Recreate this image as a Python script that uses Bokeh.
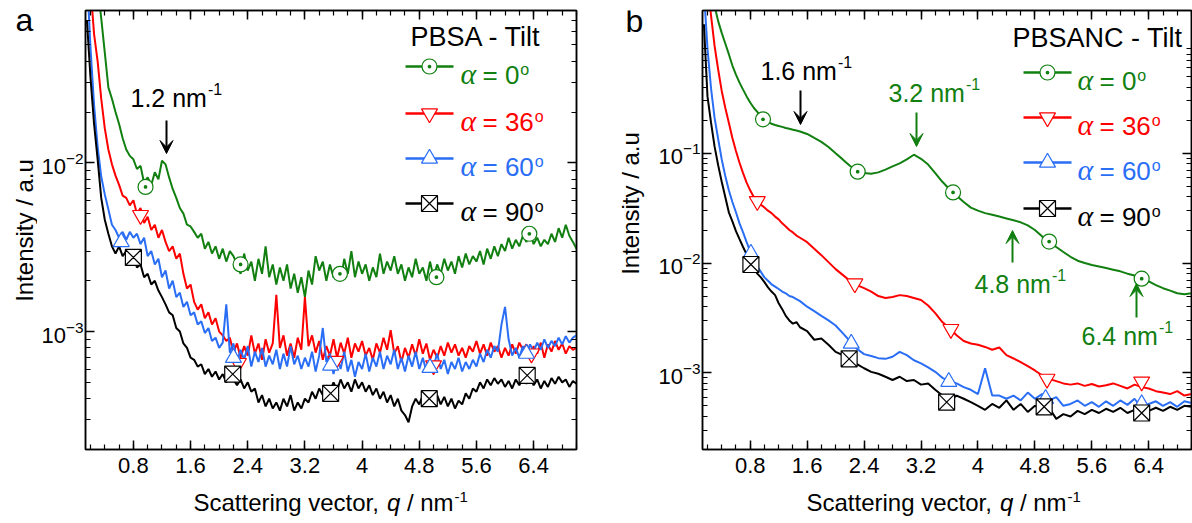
import math
import numpy as np
from bokeh.plotting import figure
from bokeh.models import (Range1d, FixedTicker, LinearAxis, LogAxis, LogTickFormatter,
                          Label, Arrow, VeeHead)
from bokeh.layouts import row, column
from bokeh.embed import file_html
from bokeh.resources import INLINE

SANS = "Liberation Sans"
SERIF = "Liberation Serif"
GREEN = "#118011"
RED = "#ff0000"
BLUE = "#2a6ef5"
BLACK = "#000000"

# ---------------- data (intensities in units of 1e-3 a.u.) ----------------
q_a = [0.15, 0.20, 0.25, 0.30, 0.35, 0.40, 0.45, 0.50, 0.55, 0.60,
       0.65, 0.70, 0.75, 0.80, 0.85, 0.90, 0.95, 1.00, 1.05, 1.10,
       1.15, 1.20, 1.25, 1.30, 1.35, 1.40, 1.45, 1.50, 1.55, 1.60,
       1.65, 1.70, 1.75, 1.80, 1.85, 1.90, 1.95, 2.00, 2.05, 2.10,
       2.15, 2.20, 2.25, 2.30, 2.35, 2.40, 2.45, 2.50, 2.55, 2.60,
       2.65, 2.70, 2.75, 2.80, 2.85, 2.90, 2.95, 3.00, 3.05, 3.10,
       3.15, 3.20, 3.25, 3.30, 3.35, 3.40, 3.45, 3.50, 3.55, 3.60,
       3.65, 3.70, 3.75, 3.80, 3.85, 3.90, 3.95, 4.00, 4.05, 4.10,
       4.15, 4.20, 4.25, 4.30, 4.35, 4.40, 4.45, 4.50, 4.55, 4.60,
       4.65, 4.70, 4.75, 4.80, 4.85, 4.90, 4.95, 5.00, 5.05, 5.10,
       5.15, 5.20, 5.25, 5.30, 5.35, 5.40, 5.45, 5.50, 5.55, 5.60,
       5.65, 5.70, 5.75, 5.80, 5.85, 5.90, 5.95, 6.00, 6.05, 6.10,
       6.15, 6.20, 6.25, 6.30, 6.35, 6.40, 6.45, 6.50, 6.55, 6.60,
       6.65, 6.70, 6.75, 6.80, 6.85, 6.90, 6.95, 7.00]

pbsa_0 = [300, 200, 150, 110, 72, 45, 28, 24, 20, 17,
          14, 12, 11, 10.5, 9.2, 9.6, 7.6, 8.2, 7.4, 8.8,
          8.0, 10.3, 9.8, 8.2, 7.0, 6.2, 5.4, 5.0, 4.3, 4.2,
          3.9, 3.6, 3.8, 3.1, 3.4, 2.9, 3.2, 2.7, 3.1, 2.6,
          3.0, 2.8, 2.5, 2.2, 2.9, 2.3, 2.6, 2.0, 2.7, 2.2,
          3.2, 2.1, 2.5, 1.9, 2.4, 2.0, 2.5, 1.8, 2.2, 1.7,
          2.1, 1.6, 2.3, 1.9, 2.8, 2.3, 2.6, 2.0, 2.5, 2.1,
          2.4, 2.0, 2.7, 2.2, 3.0, 2.1, 2.6, 2.2, 2.5, 2.0,
          2.4, 2.1, 2.9, 2.2, 2.6, 2.3, 2.8, 2.2, 2.5, 2.0,
          2.4, 2.1, 2.7, 2.2, 2.4, 2.0, 2.6, 2.1, 2.5, 2.2,
          2.7, 2.3, 2.6, 2.2, 2.8, 2.4, 2.9, 2.5, 2.8, 2.6,
          3.0, 2.5, 3.1, 2.7, 3.2, 2.8, 3.3, 3.0, 3.6, 3.1,
          3.5, 3.2, 3.7, 3.4, 3.9, 3.3, 3.6, 3.2, 3.5, 3.3,
          3.8, 3.4, 4.1, 3.6, 4.3, 3.7, 3.4, 3.1]

pbsa_36 = [300, 110, 58, 40, 24, 16, 12, 9.8, 8.4, 7.4,
           6.4, 6.2, 5.6, 6.0, 5.0, 5.4, 4.4, 4.8, 4.0, 4.3,
           3.6, 4.0, 3.4, 3.0, 3.2, 2.7, 2.9, 2.2, 1.8, 1.9,
           1.5, 1.35, 1.45, 1.2, 1.3, 1.1, 1.2, 1.0, 0.95, 0.88,
           0.92, 0.75, 0.85, 0.70, 0.82, 0.72, 0.95, 0.74, 0.85, 0.68,
           0.90, 0.75, 0.85, 1.65, 0.80, 0.95, 0.72, 0.85, 0.70, 0.92,
           0.78, 1.60, 0.82, 0.95, 0.75, 0.88, 0.68, 0.82, 0.72, 0.90,
           0.70, 0.86, 0.74, 0.92, 0.70, 0.85, 0.76, 0.88, 0.72, 0.80,
           0.68, 0.85, 0.75, 0.92, 0.78, 1.02, 0.74, 0.82, 0.66, 0.80,
           0.70, 0.84, 0.72, 0.90, 0.74, 0.85, 0.68, 0.78, 0.70, 0.82,
           0.72, 0.86, 0.75, 0.84, 0.72, 0.80, 0.70, 0.82, 0.76, 0.88,
           0.74, 0.84, 0.72, 0.86, 0.76, 0.82, 0.70, 0.80, 0.72, 0.84,
           0.74, 0.86, 0.78, 0.84, 0.72, 0.82, 0.74, 0.86, 0.70, 0.84,
           0.76, 0.88, 0.78, 0.85, 0.74, 0.82, 0.78, 0.80]

pbsa_60 = [130, 48, 22, 12.5, 8.3, 6.5, 5.3, 4.3, 4.0, 3.6,
           3.9, 3.5, 3.9, 3.6, 3.8, 3.3, 3.6, 2.8, 3.0, 2.5,
           2.7, 2.1, 2.3, 1.8, 2.0, 1.6, 1.7, 1.4, 1.5, 1.25,
           1.3, 1.1, 1.15, 0.98, 1.05, 0.88, 0.92, 0.80, 0.86, 1.45,
           0.75, 0.85, 0.66, 0.78, 0.68, 0.82, 0.62, 0.76, 0.66, 0.80,
           0.62, 0.72, 0.64, 0.78, 0.60, 0.74, 0.62, 0.82, 0.64, 0.72,
           0.60, 0.70, 0.62, 0.76, 0.58, 0.72, 1.05, 0.66, 0.74, 0.56,
           0.70, 0.60, 0.76, 0.58, 0.68, 0.54, 0.66, 0.60, 0.74, 0.58,
           0.70, 0.62, 0.76, 0.60, 0.72, 0.64, 0.78, 0.60, 0.70, 0.58,
           0.72, 0.62, 0.76, 0.60, 0.70, 0.58, 0.66, 0.62, 0.74, 0.60,
           0.68, 0.56, 0.66, 0.60, 0.70, 0.58, 0.66, 0.60, 0.68, 0.62,
           0.74, 0.66, 0.78, 0.70, 0.82, 0.76, 1.10, 1.40, 0.90, 0.72,
           0.80, 0.70, 0.82, 0.74, 0.84, 0.76, 0.86, 0.78, 0.90, 0.80,
           0.88, 0.82, 0.92, 0.84, 0.94, 0.86, 0.92, 0.95]

pbsa_90 = [70, 32, 17, 10.5, 6.2, 4.6, 3.8, 3.2, 2.9, 3.2,
           2.8, 3.0, 2.6, 2.8, 2.4, 2.5, 2.1, 2.2, 1.9, 2.0,
           1.75, 1.6, 1.45, 1.3, 1.25, 1.05, 1.0, 0.85, 0.80, 0.70,
           0.68, 0.62, 0.64, 0.56, 0.60, 0.54, 0.58, 0.52, 0.56, 0.50,
           0.54, 0.52, 0.48, 0.52, 0.46, 0.50, 0.44, 0.46, 0.38, 0.42,
           0.36, 0.40, 0.35, 0.38, 0.34, 0.40, 0.36, 0.42, 0.34, 0.38,
           0.35, 0.40, 0.38, 0.44, 0.40, 0.46, 0.42, 0.48, 0.44, 0.50,
           0.45, 0.52, 0.46, 0.50, 0.44, 0.52, 0.46, 0.50, 0.44, 0.48,
           0.42, 0.46, 0.40, 0.44, 0.38, 0.42, 0.36, 0.40, 0.34, 0.32,
           0.29, 0.36, 0.40, 0.37, 0.42, 0.38, 0.43, 0.39, 0.42, 0.37,
           0.41, 0.36, 0.40, 0.35, 0.39, 0.37, 0.43, 0.40, 0.46, 0.44,
           0.50, 0.46, 0.52, 0.48, 0.53, 0.49, 0.52, 0.47, 0.51, 0.46,
           0.52, 0.48, 0.53, 0.49, 0.54, 0.48, 0.52, 0.46, 0.51, 0.47,
           0.53, 0.49, 0.54, 0.50, 0.52, 0.47, 0.51, 0.49]

q_b = [0.15, 0.20, 0.25, 0.30, 0.35, 0.40, 0.45, 0.50, 0.55, 0.60,
       0.65, 0.70, 0.75, 0.80, 0.85, 0.90, 0.95, 1.00, 1.05, 1.10,
       1.15, 1.20, 1.25, 1.30, 1.35, 1.40, 1.45, 1.50,
       1.6, 1.7, 1.8, 1.9, 2.0, 2.1, 2.2, 2.3, 2.4, 2.5,
       2.6, 2.7, 2.8, 2.9, 3.0, 3.1, 3.2, 3.3, 3.4, 3.5,
       3.6, 3.7, 3.8, 3.9, 4.0, 4.1, 4.2, 4.3, 4.4, 4.5,
       4.6, 4.7, 4.8, 4.9, 5.0, 5.1, 5.2, 5.3, 5.4, 5.5,
       5.6, 5.7, 5.8, 5.9, 6.0, 6.1, 6.2, 6.3, 6.4, 6.5,
       6.6, 6.7, 6.8, 6.9, 7.0]

NAN = float("nan")
pbsanc_0 = [NAN, NAN, 3500, 2200, 1600, 1250, 1000, 800, 630, 520,
            440, 380, 330, 290, 260, 238, 215, 200, 192, 186,
            181, 177, 174, 170, 167, 164, 161, 158,
            150, 138, 127, 114, 100, 88, 77, 69, 66, 65,
            67, 71, 76, 81, 88, 97, 89, 79, 66, 55,
            47, 41, 36, 32, 30, 28.5, 27.5, 26.5, 25.5, 24.5,
            23.5, 22, 20, 17.5, 15.7, 14, 12.6, 11.4, 10.5, 10.0,
            9.6, 9.3, 9.0, 8.7, 8.4, 8.0, 7.7, 7.3, 6.8, 6.3,
            5.9, 5.6, 5.3, 5.2, 5.3]

pbsanc_36 = [NAN, 3500, 1800, 950, 580, 370, 260, 190, 138, 105,
             82, 66, 54, 46, 40, 36.5, 34, 32, 30, 28.5,
             26.5, 25, 23, 21.5, 20, 19, 17.8, 17,
             15.5, 13.5, 11.8, 10.2, 8.8, 7.8, 6.9, 6.3, 5.9, 5.5,
             5.0, 4.8, 4.9, 5.1, 5.0, 4.8, 4.6, 4.1, 3.5, 2.9,
             2.55, 2.2, 1.95, 1.85, 1.8, 1.72, 1.62, 1.7, 1.45, 1.35,
             1.25, 1.15, 1.05, 0.95, 0.88, 0.84, 0.80, 0.78, 0.80, 0.76,
             0.79, 0.75, 0.77, 0.80, 0.76, 0.72, 0.78, 0.74, 0.72, 0.68,
             0.66, 0.64, 0.68, 0.62, 0.64]

pbsanc_60 = [3000, 900, 390, 210, 135, 88, 62, 46, 36, 29,
             23, 19, 15.5, 12.8, 10.8, 9.3, 8.3, 7.4, 6.9, 6.4,
             6.1, 5.8, 5.5, 5.3, 5.0, 4.9, 4.7, 4.5,
             4.0, 3.65, 3.3, 3.0, 2.7, 2.3, 1.95, 1.65, 1.48, 1.42,
             1.36, 1.34, 1.40, 1.55, 1.45, 1.30, 1.22, 1.12, 1.02, 0.90,
             0.84, 0.80, 0.74, 0.70, 0.64, 1.10, 0.62, 0.62, 0.58, 0.62,
             0.56, 0.66, 0.58, 0.64, 0.56, 0.60, 0.50, 0.52, 0.56, 0.50,
             0.54, 0.49, 0.55, 0.50, 0.56, 0.51, 0.58, 0.48, 0.52, 0.55,
             0.50, 0.54, 0.49, 0.55, 0.53]

pbsanc_90 = [1500, 330, 190, 115, 78, 55, 40, 29, 24, 19.5,
             16.5, 14, 12, 10.2, 8.9, 8.0, 7.4, 6.7, 6.0, 5.5,
             5.1, 4.3, 3.8, 3.3, 3.0, 2.8, 2.9, 2.6,
             2.4, 2.0, 2.05, 1.8, 1.55, 1.45, 1.32, 1.20, 1.10, 1.02,
             0.98, 0.92, 0.86, 0.92, 0.84, 0.86, 0.78, 0.80, 0.70, 0.62,
             0.56, 0.62, 0.58, 0.54, 0.50, 0.46, 0.52, 0.48, 0.56, 0.46,
             0.52, 0.44, 0.50, 0.47, 0.48, 0.38, 0.42, 0.40, 0.45, 0.42,
             0.46, 0.43, 0.47, 0.44, 0.48, 0.43, 0.46, 0.42, 0.45, 0.48,
             0.45, 0.49, 0.46, 0.50, 0.49]

# symbol positions (q, intensity x1e-3)
mk_a_q = {"0": [0.97, 2.30, 3.69, 5.04, 6.34], "36": [0.90, 2.27, 3.63, 5.00, 6.37],
          "60": [0.63, 2.20, 3.56, 4.95, 6.30], "90": [0.80, 2.19, 3.56, 4.94, 6.31]}
mk_a_v = {"0": [7.2, 2.5, 2.2, 2.1, 3.8], "36": [4.9, 0.65, 0.67, 0.63, 0.74],
          "60": [3.4, 0.70, 0.63, 0.61, 0.74], "90": [2.75, 0.56, 0.43, 0.40, 0.55]}
mk_b_q = {"0": [0.98, 2.31, 3.65, 5.00, 6.30], "36": [0.90, 2.27, 3.62, 4.97, 6.30],
          "60": [0.81, 2.22, 3.59, 4.95, 6.30], "90": [0.81, 2.19, 3.56, 4.93, 6.30]}
mk_b_v = {"0": [204, 68, 44, 15.7, 7.2], "36": [36.5, 6.5, 2.5, 0.88, 0.83],
          "60": [12.2, 1.85, 0.83, 0.58, 0.52], "90": [9.7, 1.34, 0.54, 0.49, 0.43]}

angles = ["0", "36", "60", "90"]
colors = [GREEN, RED, BLUE, BLACK]
markers = ["circle_dot", "inverted_triangle", "triangle", "square_x"]
msizes = [15, 16, 16, 16]

x_ticks = [0.8, 1.6, 2.4, 3.2, 4, 4.8, 5.6, 6.4]
x_tick_labels = ["0.8", "1.6", "2.4", "3.2", "4", "4.8", "5.6", "6.4"]
x_minor = [round(0.2 * i, 1) for i in range(1, 36)]
y_minor = [m * 10.0 ** e for e in (-4, -3, -2, -1, 0) for m in range(2, 10)]

SCALE = 1e-3
X_RANGE = (0.13, 7.0)
TOP_H = 487       # height of the plot row
BOT_H = 36        # height of the x-label row
FT, FH = 10, 439  # frame top and height (page px)
LEFT_B = 48       # room for the y tick labels
BASE_SHIFT = 0.4  # label anchor correction (em) for alphabetic baselines

# Arial advance widths (1/1000 em) for text layout
W = {' ': 278, ',': 278, '.': 278, '/': 278, '-': 333, '=': 584, 'S': 667, 'a': 556, 'c': 500,
     'e': 556, 'g': 556, 'i': 222, 'm': 833, 'n': 556, 'o': 556, 'q': 556, 'r': 333, 't': 278,
     'v': 500}


def tw(s, size):
    return sum(W.get(ch, 556) for ch in s) * size / 1000.0


def conv(FL, FW, yr):
    lx0, lx1 = X_RANGE
    ly0, ly1 = math.log10(yr[0]), math.log10(yr[1])

    def fx(px):
        return lx0 + (px - FL) * (lx1 - lx0) / FW

    def fy(py):
        return 10 ** (ly1 - (py - FT) * (ly1 - ly0) / FH)
    return fx, fy


def put(p, fx, fy, x, y, text, size, color=BLACK, font=SANS, style="normal",
        align="left", baseline="alphabetic", angle=0.0):
    if baseline == "alphabetic":
        y = y - BASE_SHIFT * size
    p.add_layout(Label(x=fx(x), y=fy(y), text=text, text_font=font,
                       text_font_size=f"{size}px", text_font_style=style,
                       text_color=color, text_align=align, text_baseline=baseline,
                       angle=angle))


def side_text_fig(left, w):
    # text column beside a panel; its frame is aligned with the panel frame
    t = figure(width=w, height=TOP_H, x_range=Range1d(0, w), y_range=Range1d(-(FT + FH), -FT),
               x_axis_location=None, y_axis_location=None, min_border_left=0,
               min_border_right=0, min_border_top=FT, min_border_bottom=TOP_H - FT - FH,
               output_backend="svg", toolbar_location=None, outline_line_color=None,
               background_fill_color="white", border_fill_color="white")
    t.grid.visible = False
    t.title.visible = False
    return t, (lambda px: px - left), (lambda py: -py)


def bottom_text_fig(left, w):
    t = figure(width=w, height=BOT_H, x_range=Range1d(0, w), y_range=Range1d(0, BOT_H),
               x_axis_location=None, y_axis_location=None, min_border=0,
               output_backend="svg", toolbar_location=None, outline_line_color=None,
               background_fill_color="white", border_fill_color="white")
    t.grid.visible = False
    t.title.visible = False
    return t, (lambda px: px - left), (lambda py: TOP_H + BOT_H - py)


def style_axis(ax):
    ax.axis_line_color = BLACK
    ax.axis_line_width = 1.5
    ax.major_tick_line_color = BLACK
    ax.minor_tick_line_color = BLACK
    ax.major_tick_line_width = 1.5
    ax.minor_tick_line_width = 1.2
    ax.major_tick_in = 9
    ax.major_tick_out = 0
    ax.minor_tick_in = 5
    ax.minor_tick_out = 0
    ax.major_label_text_font = SANS
    ax.major_label_text_font_size = "22px"
    ax.major_label_text_color = BLACK


def make_fig(width, yr, mbr, yticks):
    p = figure(width=width, height=TOP_H, x_range=Range1d(*X_RANGE), y_range=Range1d(*yr),
               y_axis_type="log", output_backend="svg", toolbar_location=None,
               min_border_left=LEFT_B, min_border_right=mbr, min_border_top=FT,
               min_border_bottom=TOP_H - FT - FH, background_fill_color="white",
               border_fill_color="white")
    p.title.visible = False
    p.grid.visible = False
    p.outline_line_color = BLACK
    p.outline_line_width = 1.5
    xt = FixedTicker(ticks=x_ticks, minor_ticks=x_minor)
    yt = FixedTicker(ticks=yticks, minor_ticks=y_minor)
    bx = p.below[0]
    ly = p.left[0]
    bx.ticker = xt
    bx.major_label_overrides = dict(zip(x_ticks, x_tick_labels))
    ly.ticker = yt
    ly.formatter = LogTickFormatter()
    top = LinearAxis(ticker=xt, major_label_overrides={t: "" for t in x_ticks})
    right = LogAxis(ticker=yt, major_label_overrides={t: "" for t in yticks})
    p.add_layout(top, "above")
    p.add_layout(right, "right")
    for ax in (bx, ly, top, right):
        style_axis(ax)
    for ax in (top, right):
        ax.major_label_text_font_size = "0px"
        ax.major_label_standoff = 0
    bx.major_label_standoff = 8
    ly.major_label_standoff = 2
    return p


def draw_series(p, q, series, mq, mv):
    for s, c in zip(series, colors):
        p.line(q, np.array(s, dtype=float) * SCALE, line_color=c, line_width=2)
    for a, c, m, sz in zip(angles, colors, markers, msizes):
        p.scatter(mq[a], np.array(mv[a]) * SCALE, marker=m, size=sz, line_color=c,
                  fill_color="white", line_width=1.2)


def legend(p, fx, fy, title, tx, ty, lx0, lx1, ax, rows_y):
    put(p, fx, fy, tx, ty, title, 27)
    for a, c, m, sz, y in zip(angles, colors, markers, msizes, rows_y):
        p.line([fx(lx0), fx(lx1)], [fy(y), fy(y)], line_color=c, line_width=2.5)
        p.scatter([fx((lx0 + lx1) / 2)], [fy(y)], marker=m, size=sz, line_color=c,
                  fill_color="white", line_width=1.2)
        put(p, fx, fy, ax, y + 19, "\u03b1", 30, c, font=SERIF, style="italic")
        eq = f"= {a}"
        put(p, fx, fy, ax + 22, y + 19, eq, 26, c)
        put(p, fx, fy, ax + 23 + tw(eq, 26), y + 9, "o", 16, c)


def nm_note(p, fx, fy, x, y, num, color):
    main = f"{num} nm"
    put(p, fx, fy, x, y, main, 25, color)
    put(p, fx, fy, x + tw(main, 25) + 1, y - 12, "-1", 16, color)


def arrow(p, fx, fy, x, y0, y1, color):
    p.add_layout(Arrow(end=VeeHead(size=13, fill_color=color, line_color=color),
                       x_start=fx(x), y_start=fy(y0), x_end=fx(x), y_end=fy(y1),
                       line_color=color, line_width=2))


def x_label(t, fx, fy, xs):
    base = 512
    put(t, fx, fy, xs, base, "Scattering vector,", 24)
    qx = xs + tw("Scattering vector, ", 24)
    put(t, fx, fy, qx, base, "q", 24, style="italic")
    sx = qx + tw("q ", 24)
    put(t, fx, fy, sx, base, "/ nm", 24)
    put(t, fx, fy, sx + tw("/ nm", 24) + 1, base - 10, "-1", 15)


# ---------------- panel a ----------------
FL_A, FW_A = 85, 491
FL_B, FW_B = 702, 489
YR_A = (2e-4, 8e-2)
ta_w = FL_A - LEFT_B
ta, tfa, tga = side_text_fig(0, ta_w)
put(ta, tfa, tga, 15, 32, "a", 32)
put(ta, tfa, tga, 24, 230, "Intensity / a.u", 24, align="center", baseline="middle",
    angle=math.pi / 2)

pa = make_fig(600 - ta_w, YR_A, 600 - FL_A - FW_A, [1e-3, 1e-2])
fxa, fya = conv(FL_A, FW_A, YR_A)
draw_series(pa, q_a, [pbsa_0, pbsa_36, pbsa_60, pbsa_90], mk_a_q, mk_a_v)
legend(pa, fxa, fya, "PBSA - Tilt", 410, 47, 405, 453, 460, [66, 113, 158, 203])
nm_note(pa, fxa, fya, 130, 107, "1.2", BLACK)
arrow(pa, fxa, fya, 166, 120, 153, BLACK)

xa, xfa, xga = bottom_text_fig(0, 600)
x_label(xa, xfa, xga, 193)

# ---------------- panel b ----------------
YR_B = (2e-4, 2.0)
tb_w = FL_B - LEFT_B - 600
tb, tfb, tgb = side_text_fig(600, tb_w)
put(tb, tfb, tgb, 625, 33, "b", 32)
put(tb, tfb, tgb, 630, 203, "Intensity / a.u", 24, align="center", baseline="middle",
    angle=math.pi / 2)

pb = make_fig(1192 - 600 - tb_w, YR_B, 1192 - FL_B - FW_B, [1e-3, 1e-2, 1e-1])
fxb, fyb = conv(FL_B, FW_B, YR_B)
draw_series(pb, q_b, [pbsanc_0, pbsanc_36, pbsanc_60, pbsanc_90], mk_b_q, mk_b_v)
legend(pb, fxb, fyb, "PBSANC - Tilt", 1012, 48, 1023, 1071, 1077, [72, 117, 162, 208])
nm_note(pb, fxb, fyb, 760, 80, "1.6", BLACK)
arrow(pb, fxb, fyb, 800, 90, 124, BLACK)
nm_note(pb, fxb, fyb, 888, 102, "3.2", GREEN)
arrow(pb, fxb, fyb, 916, 112, 146, GREEN)
nm_note(pb, fxb, fyb, 974, 293, "4.8", GREEN)
arrow(pb, fxb, fyb, 1012, 262, 230, GREEN)
nm_note(pb, fxb, fyb, 1081, 345, "6.4", GREEN)
arrow(pb, fxb, fyb, 1136, 317, 283, GREEN)

xb, xfb, xgb = bottom_text_fig(600, 592)
x_label(xb, xfb, xgb, 806)

layout = column(row(ta, pa, tb, pb), row(xa, xb))
open("out.html", "w").write(file_html(layout, INLINE))
